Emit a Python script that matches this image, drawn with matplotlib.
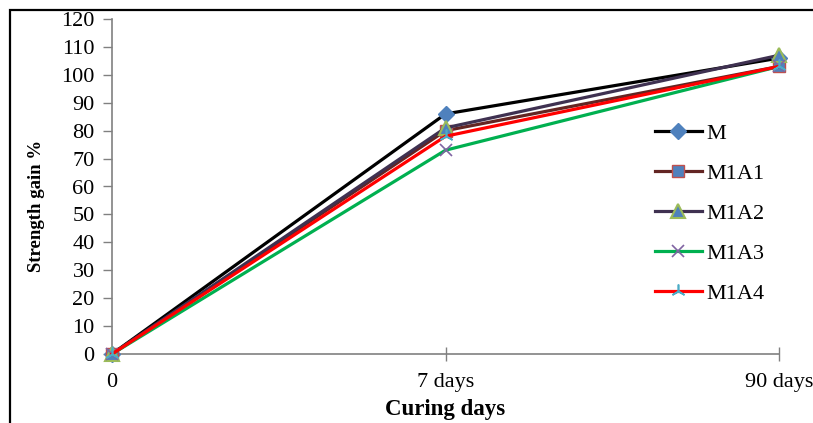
import matplotlib
matplotlib.use("Agg")
import matplotlib.pyplot as plt
from matplotlib.patches import Rectangle

categories = ["0", "7 days", "90 days"]
series_names = ["M", "M1A1", "M1A2", "M1A3", "M1A4"]
M = [0, 86, 106]
M1A1 = [0, 80, 103]
M1A2 = [0, 81, 107]
M1A3 = [0, 73, 103]
M1A4 = [0, 78, 103]
yticks = list(range(0, 121, 10))

plt.rcParams['font.family'] = ['Liberation Serif', 'DejaVu Serif']

fig = plt.figure(figsize=(8.13, 4.23), dpi=100)
W, H = 813, 423
ax = fig.add_axes([112 / W, 1 - 354 / H, (779 - 112) / W, (354 - 19) / H])

x = list(range(len(categories)))
styles = [
    dict(color="#000000", marker="D", mfc="#4F81BD", mec="#4F81BD", ms=8.5, mew=1),
    dict(color="#632523", marker="s", mfc="#4F81BD", mec="#C0504D", ms=9, mew=1),
    dict(color="#3F3151", marker="^", mfc="#4F81BD", mec="#9BBB59", ms=10, mew=1.5),
    dict(color="#00B050", marker="x", mfc="none", mec="#8064A2", ms=9, mew=1.2),
    dict(color="#FF0000", marker=(3, 2, 0), mfc="none", mec="#4BACC6", ms=10, mew=1.2),
]
data = [M, M1A1, M1A2, M1A3, M1A4]
for name, vals, st in zip(series_names, data, styles):
    ax.plot(x, vals, label=name, lw=2.3, clip_on=False, zorder=3, **st)

ax.set_xlim(0, 2)
ax.set_ylim(0, 120)
ax.set_xticks(x)
ax.set_xticklabels(categories)
ax.set_yticks(yticks)
for s in ["top", "right"]:
    ax.spines[s].set_visible(False)
for s in ["left", "bottom"]:
    ax.spines[s].set_color("#808080")
    ax.spines[s].set_linewidth(1.2)
ax.tick_params(axis="y", direction="out", length=6.5, width=1, color="#808080", pad=6, labelsize=16)
ax.tick_params(axis="x", direction="inout", length=10, width=1, color="#808080", pad=9, labelsize=16)

ax.set_ylabel("Strength gain %", fontsize=13.5, fontweight="bold")
ax.yaxis.set_label_coords((45 - 112) / (779 - 112), (354 - 206) / (354 - 19))
ax.set_xlabel("Curing days", fontsize=16.5, fontweight="bold", labelpad=5)

leg = ax.legend(loc="upper left", bbox_to_anchor=(655 / W, 1 - 123 / H),
                bbox_transform=fig.transFigure, frameon=False, fontsize=16,
                handlelength=2.1, handletextpad=0.2, labelspacing=0.88,
                borderpad=0, borderaxespad=0)

fig.patches.append(Rectangle((10 / W, -0.2), 1.5, 1.2 - 10 / H, transform=fig.transFigure,
                             fill=False, edgecolor="black", linewidth=1.6, clip_on=False))

fig.savefig("out.png", dpi=100)
